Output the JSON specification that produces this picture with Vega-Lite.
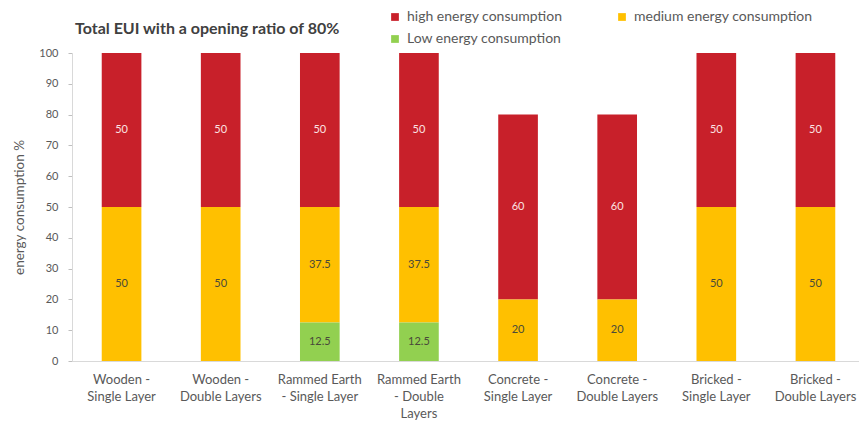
{
  "$schema": "https://vega.github.io/schema/vega-lite/v6.json",
  "autosize": {"type": "none"},
  "padding": {"left": 72, "top": 53, "right": 0, "bottom": 66},
  "width": 793,
  "height": 308,
  "background": "white",
  "config": {"view": {"stroke": null}},
  "title": {
    "text": "Total EUI with a opening ratio of 80%",
    "anchor": "start",
    "frame": "group",
    "orient": "top",
    "offset": 0,
    "dy": 27,
    "dx": 3,
    "font": "Lato",
    "fontSize": 16,
    "fontWeight": "bold",
    "color": "#404040"
  },
  "data": {
    "values": [
      {"category": "Wooden - Single Layer", "level": "high energy consumption", "value": 50, "rank": 3},
      {"category": "Wooden - Single Layer", "level": "medium energy consumption", "value": 50, "rank": 2},
      {"category": "Wooden - Double Layers", "level": "high energy consumption", "value": 50, "rank": 3},
      {"category": "Wooden - Double Layers", "level": "medium energy consumption", "value": 50, "rank": 2},
      {"category": "Rammed Earth - Single Layer", "level": "high energy consumption", "value": 50, "rank": 3},
      {"category": "Rammed Earth - Single Layer", "level": "medium energy consumption", "value": 37.5, "rank": 2},
      {"category": "Rammed Earth - Single Layer", "level": "Low energy consumption", "value": 12.5, "rank": 1},
      {"category": "Rammed Earth - Double Layers", "level": "high energy consumption", "value": 50, "rank": 3},
      {"category": "Rammed Earth - Double Layers", "level": "medium energy consumption", "value": 37.5, "rank": 2},
      {"category": "Rammed Earth - Double Layers", "level": "Low energy consumption", "value": 12.5, "rank": 1},
      {"category": "Concrete - Single Layer", "level": "high energy consumption", "value": 60, "rank": 3},
      {"category": "Concrete - Single Layer", "level": "medium energy consumption", "value": 20, "rank": 2},
      {"category": "Concrete - Double Layers", "level": "high energy consumption", "value": 60, "rank": 3},
      {"category": "Concrete - Double Layers", "level": "medium energy consumption", "value": 20, "rank": 2},
      {"category": "Bricked - Single Layer", "level": "high energy consumption", "value": 50, "rank": 3},
      {"category": "Bricked - Single Layer", "level": "medium energy consumption", "value": 50, "rank": 2},
      {"category": "Bricked - Double Layers", "level": "high energy consumption", "value": 50, "rank": 3},
      {"category": "Bricked - Double Layers", "level": "medium energy consumption", "value": 50, "rank": 2}
    ]
  },
  "transform": [
    {"stack": "value", "groupby": ["category"], "sort": [{"field": "rank", "order": "ascending"}], "as": ["v0", "v1"]},
    {"calculate": "(datum.v0 + datum.v1) / 2", "as": "mid"}
  ],
  "encoding": {
    "x": {
      "field": "category",
      "type": "nominal",
      "sort": null,
      "scale": {"paddingInner": 0.6, "paddingOuter": 0.3},
      "axis": {
        "title": null,
        "labelAngle": 0,
        "labelFont": "Lato",
        "labelFontSize": 13,
        "labelColor": "#595959",
        "labelLineHeight": 17,
        "labelPadding": 12,
        "labelLimit": 200,
        "labelOverlap": false,
        "ticks": false,
        "domainColor": "#d9d9d9",
        "labelExpr": "{'Wooden - Single Layer': ['Wooden -', 'Single Layer'], 'Wooden - Double Layers': ['Wooden -', 'Double Layers'], 'Rammed Earth - Single Layer': ['Rammed Earth', '- Single Layer'], 'Rammed Earth - Double Layers': ['Rammed Earth', '- Double', 'Layers'], 'Concrete - Single Layer': ['Concrete -', 'Single Layer'], 'Concrete - Double Layers': ['Concrete -', 'Double Layers'], 'Bricked - Single Layer': ['Bricked -', 'Single Layer'], 'Bricked - Double Layers': ['Bricked -', 'Double Layers']}[datum.label]"
      }
    }
  },
  "layer": [
    {
      "mark": {"type": "bar"},
      "encoding": {
        "y": {
          "field": "v0",
          "type": "quantitative",
          "scale": {"domain": [0, 100], "nice": false},
          "axis": {
            "title": "energy consumption %",
            "titleFont": "Lato",
            "titleFontSize": 13.5,
            "titleFontWeight": "normal",
            "titleColor": "#595959",
            "titlePadding": 12,
            "values": [0, 10, 20, 30, 40, 50, 60, 70, 80, 90, 100],
            "labelOverlap": false,
            "labelFont": "Lato",
            "labelFontSize": 11,
            "labelColor": "#595959",
            "labelPadding": 10,
            "tickSize": 4,
            "tickColor": "#bfbfbf",
            "domainColor": "#d9d9d9",
            "grid": false
          }
        },
        "y2": {"field": "v1"},
        "color": {
          "field": "level",
          "type": "nominal",
          "scale": {
            "domain": ["high energy consumption", "medium energy consumption", "Low energy consumption"],
            "range": ["#C8202A", "#FFC000", "#92D050"]
          },
          "legend": {
            "orient": "none",
            "legendX": 316,
            "legendY": -43,
            "direction": "horizontal",
            "title": null,
            "columns": 2,
            "columnPadding": 52,
            "rowPadding": 8,
            "symbolType": "square",
            "symbolSize": 60,
            "symbolStrokeWidth": 0,
            "labelFont": "Lato",
            "labelFontSize": 14,
            "labelLimit": 300,
            "labelColor": "#595959",
            "labelOffset": 5
          }
        }
      }
    },
    {
      "mark": {"type": "text", "font": "Lato", "fontSize": 11, "baseline": "middle"},
      "encoding": {
        "y": {
          "field": "mid",
          "type": "quantitative",
          "axis": {
            "title": "energy consumption %",
            "titleFont": "Lato",
            "titleFontSize": 13.5,
            "titleFontWeight": "normal",
            "titleColor": "#595959",
            "titlePadding": 12,
            "values": [0, 10, 20, 30, 40, 50, 60, 70, 80, 90, 100],
            "labelOverlap": false,
            "labelFont": "Lato",
            "labelFontSize": 11,
            "labelColor": "#595959",
            "labelPadding": 10,
            "tickSize": 4,
            "tickColor": "#bfbfbf",
            "domainColor": "#d9d9d9",
            "grid": false
          }
        },
        "text": {"field": "value", "type": "quantitative"},
        "color": {
          "condition": {"test": "datum.rank == 3", "value": "#fbe3e3"},
          "value": "#4a4a3a"
        }
      }
    }
  ]
}
